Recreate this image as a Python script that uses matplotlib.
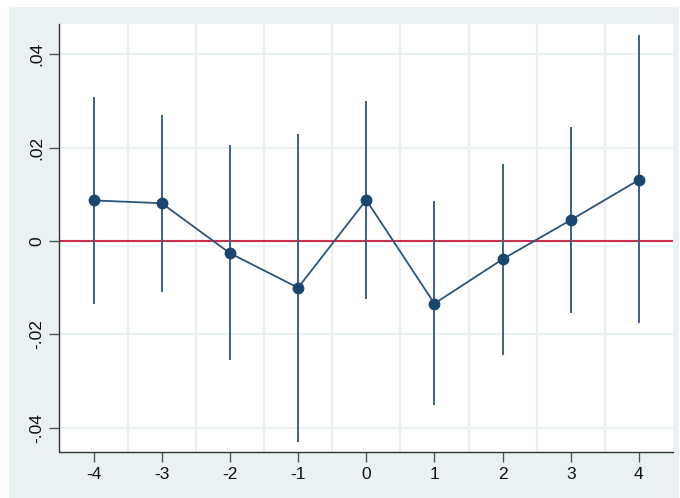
import matplotlib
matplotlib.use("Agg")
import matplotlib.pyplot as plt
from matplotlib.patches import Rectangle

plt.rcParams['font.family'] = ['Liberation Sans', 'DejaVu Sans']

# Event-time coefficients with 95% confidence intervals
periods = [-4, -3, -2, -1, 0, 1, 2, 3, 4]
coef = [0.0087, 0.0081, -0.0026, -0.0100, 0.0088, -0.0134, -0.0039, 0.0045, 0.0131]
ci_low = [-0.0134, -0.0109, -0.0255, -0.0430, -0.0125, -0.0351, -0.0245, -0.0154, -0.0176]
ci_high = [0.0309, 0.0269, 0.0205, 0.0229, 0.0299, 0.0085, 0.0166, 0.0244, 0.0441]

x_ticks = [-4, -3, -2, -1, 0, 1, 2, 3, 4]
y_ticks = [-0.04, -0.02, 0.0, 0.02, 0.04]
y_tick_labels = ['-.04', '-.02', '0', '.02', '.04']

W, H = 680, 498
fig = plt.figure(figsize=(W / 100, H / 100), dpi=100, facecolor='white')

bg = '#EAF1F3'
fig.add_artist(Rectangle((9 / W, 0), (679 - 9) / W, (H - 7) / H,
                         transform=fig.transFigure, facecolor=bg,
                         edgecolor='none', zorder=-10))

ax = fig.add_axes([59.5 / W, 1 - 452 / H, (673 - 59.5) / W, (452 - 24) / H])
ax.set_facecolor('white')
ax.set_zorder(1)

navy = '#1A476F'
ci_color = '#3D6089'
red = '#C8324E'

ax.vlines(periods, ci_low, ci_high, color=ci_color, linewidth=1.4, zorder=3)
ax.axhline(0, color=red, linewidth=1.5, zorder=2)
ax.plot(periods, coef, color='#2D5479', linewidth=1.3, marker='o',
        markersize=7.5, markerfacecolor=navy, markeredgecolor=navy, zorder=4)

ax.set_xlim(-4.5, 4.5)
ax.set_ylim(-0.0452, 0.0465)

ax.set_xticks(x_ticks)
ax.set_xticklabels([str(v) for v in x_ticks])
ax.set_yticks(y_ticks)
ax.set_yticklabels(y_tick_labels, rotation=90, va='center')

# grid: horizontal at y ticks, vertical between categories
grid_color = '#E8F0F2'
for yv in y_ticks:
    ax.axhline(yv, color=grid_color, linewidth=1.6, zorder=1)
for xv in [-3.5, -2.5, -1.5, -0.5, 0.5, 1.5, 2.5, 3.5]:
    ax.axvline(xv, color=grid_color, linewidth=1.6, zorder=1)

for side in ['top', 'right']:
    ax.spines[side].set_visible(False)
for side in ['left', 'bottom']:
    ax.spines[side].set_color('#333333')
    ax.spines[side].set_linewidth(1.0)

ax.tick_params(axis='both', direction='out', length=7, width=1.0,
               color='#555555', labelsize=12.5, labelcolor='#111111', pad=4)

fig.savefig('out.png', dpi=100, facecolor=fig.get_facecolor())
